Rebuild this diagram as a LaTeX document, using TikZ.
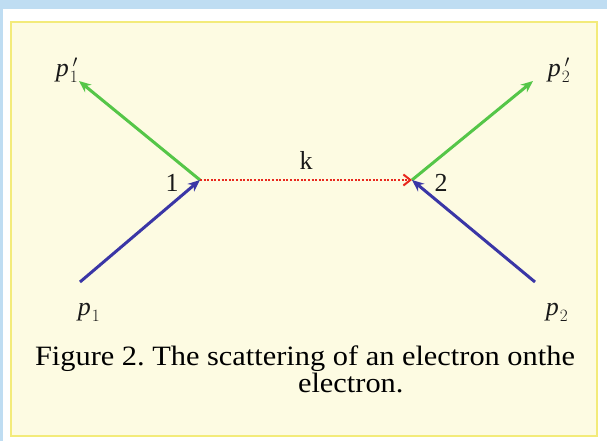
\documentclass[tikz,border=0pt]{standalone}
\usepackage{fontspec}
\setmainfont{Liberation Serif}
\newfontfamily\capfont[FakeStretch=1.085]{Liberation Serif}
\usetikzlibrary{arrows.meta}
\definecolor{bgblue}{HTML}{BFDDF2}
\definecolor{boxfill}{HTML}{FDFBE2}
\definecolor{boxline}{HTML}{F3EB7A}
\definecolor{lgreen}{HTML}{55C648}
\definecolor{dblue}{HTML}{3A36A6}
\definecolor{lred}{HTML}{E8281E}
\newcommand{\mom}[2]{{\itshape p}\kern1pt$^{\,#2}_{#1}$}
\frenchspacing
\begin{document}
\begin{tikzpicture}[x=1pt,y=-1pt,
  lab/.style={font=\fontsize{26}{30}\selectfont, inner sep=0pt, text=black!90},
  outl/.style={lgreen, line width=3pt, -{Stealth[length=12pt,width=10pt]}},
  inl/.style={dblue, line width=3pt, -{Stealth[length=12pt,width=10pt]}},
  propl/.style={lred, line width=2pt, dash pattern=on 2pt off 1.6pt, -{Straight Barb[length=7pt,width=11pt,line width=2pt]}}]
\useasboundingbox (0,0) rectangle (607,441);
\fill[bgblue] (0,0) rectangle (607,441);
\fill[white] (3,9) rectangle (607,441);
\draw[boxline, line width=1.5pt, fill=boxfill] (11,22) rectangle (597,436);
% vertices and ends
\coordinate (v1) at (200,180);
\coordinate (v2) at (412,180);
\coordinate (e1) at (79,81);
\coordinate (e2) at (533,81);
\coordinate (s1) at (80,282);
\coordinate (s2) at (535,282);
\draw[outl] (v1) -- (e1);
\draw[outl] (v2) -- (e2);
\draw[inl] (s1) -- (v1);
\draw[inl] (s2) -- (v2);
\draw[propl] (v1) -- (v2);
\node[lab] (lp1p) at (67,70) {\mom{1}{\prime}};
\node[lab] (lp2p) at (559,70) {\mom{2}{\prime}};
\node[lab] (lp1) at (89,312) {\mom{1}{}};
\node[lab] (lp2) at (557,312) {\mom{2}{}};
\node[lab] (l1) at (172,183) {1};
\node[lab] (l2) at (441,183) {2};
\node[lab] (lk) at (306,160) {k};
\node[lab, align=left, text=black, font=\capfont\fontsize{28}{27}\selectfont] (cap) at (305,369) {Figure 2. The scattering of an electron onthe\\\hspace*{263pt}electron.};
\end{tikzpicture}
\end{document}
